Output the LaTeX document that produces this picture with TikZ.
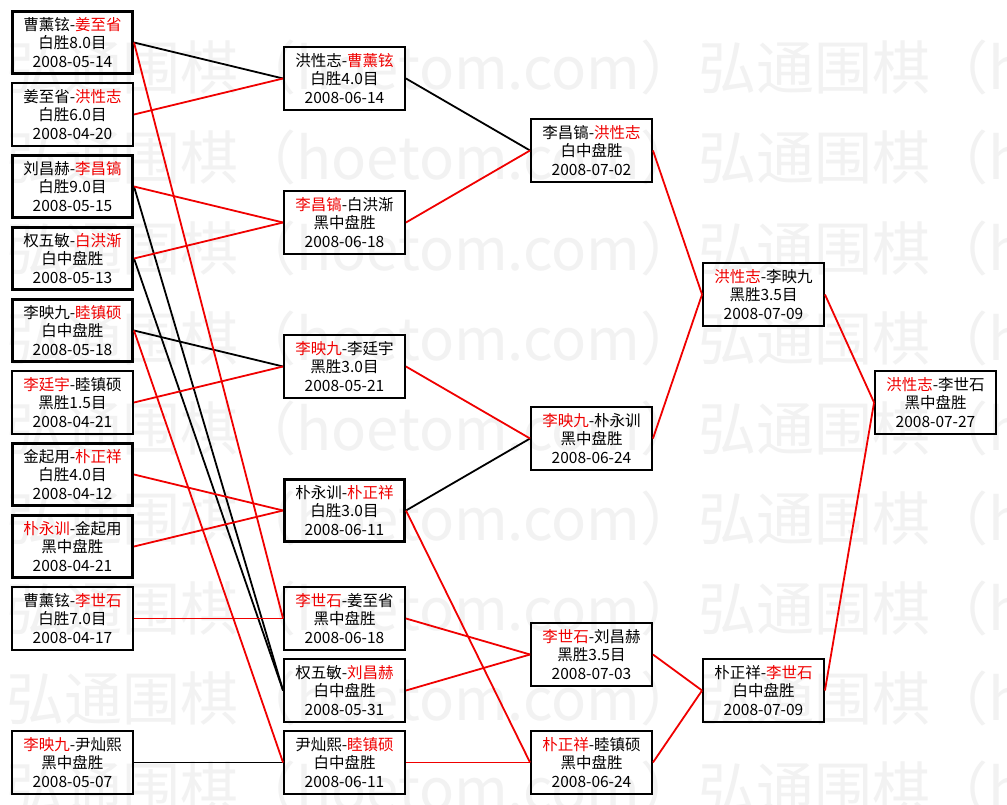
\documentclass[tikz,border=0pt]{standalone}
\usepackage{fontspec}
\setmainfont{Noto Sans CJK SC}
\definecolor{wred}{RGB}{240,0,0}
\definecolor{wmgray}{RGB}{242,242,242}
\newcommand{\redtxt}[1]{\textcolor{wred}{#1}}
\begin{document}
\begin{tikzpicture}[x=1pt,y=-1pt,
  box/.style={draw=black, line width=1.9pt, minimum width=121pt, minimum height=63pt,
    inner sep=0pt, align=center, font=\fontsize{15.5pt}{18.5pt}\selectfont},
  boldbox/.style={box, line width=3pt, minimum width=120pt, minimum height=62pt},
  blk/.style={draw=black, line width=1.8pt},
  rln/.style={draw=wred, line width=1.8pt},
  wm/.style={anchor=base west, inner sep=0pt, text=wmgray,
    font=\fontsize{58pt}{58pt}\selectfont}]
\useasboundingbox (0,0) rectangle (1007,805);
\clip (0,0) rectangle (1007,805);
\fill[white] (0,0) rectangle (1007,805);
% watermark
\foreach \k in {0,...,8}{
  \node[wm, name=wm\k] at (6,{90+90*\k}) {弘通围棋（hoetom.com）弘通围棋（hoetom.com）};
}
% left column
\node[boldbox] (L1) at (72.5,42.5) {曹薰铉-\redtxt{姜至省}\\白胜8.0目\\2008-05-14};
\node[box] (L2) at (72.5,114.5) {姜至省-\redtxt{洪性志}\\白胜6.0目\\2008-04-20};
\node[boldbox] (L3) at (72.5,186.5) {刘昌赫-\redtxt{李昌镐}\\白胜9.0目\\2008-05-15};
\node[boldbox] (L4) at (72.5,258.5) {权五敏-\redtxt{白洪渐}\\白中盘胜\\2008-05-13};
\node[boldbox] (L5) at (72.5,330.5) {李映九-\redtxt{睦镇硕}\\白中盘胜\\2008-05-18};
\node[box] (L6) at (72.5,402.5) {\redtxt{李廷宇}-睦镇硕\\黑胜1.5目\\2008-04-21};
\node[boldbox] (L7) at (72.5,474.5) {金起用-\redtxt{朴正祥}\\白胜4.0目\\2008-04-12};
\node[boldbox] (L8) at (72.5,546.5) {\redtxt{朴永训}-金起用\\黑中盘胜\\2008-04-21};
\node[box] (L9) at (72.5,618.5) {曹薰铉-\redtxt{李世石}\\白胜7.0目\\2008-04-17};
\node[box] (L10) at (72.5,762.5) {\redtxt{李映九}-尹灿熙\\黑中盘胜\\2008-05-07};
% second column
\node[box] (M1) at (344.5,78.5) {洪性志-\redtxt{曹薰铉}\\白胜4.0目\\2008-06-14};
\node[box] (M2) at (344.5,222.5) {\redtxt{李昌镐}-白洪渐\\黑中盘胜\\2008-06-18};
\node[box] (M3) at (344.5,366.5) {\redtxt{李映九}-李廷宇\\黑胜3.0目\\2008-05-21};
\node[boldbox] (M4) at (344.5,510.5) {朴永训-\redtxt{朴正祥}\\白胜3.0目\\2008-06-11};
\node[box] (M5) at (344.5,618.5) {\redtxt{李世石}-姜至省\\黑中盘胜\\2008-06-18};
\node[box] (M6) at (344.5,690.5) {权五敏-\redtxt{刘昌赫}\\白中盘胜\\2008-05-31};
\node[box] (M7) at (344.5,762.5) {尹灿熙-\redtxt{睦镇硕}\\白中盘胜\\2008-06-11};
% third column
\node[box] (C1) at (591.5,150.5) {李昌镐-\redtxt{洪性志}\\白中盘胜\\2008-07-02};
\node[box] (C2) at (591.5,438.5) {\redtxt{李映九}-朴永训\\黑中盘胜\\2008-06-24};
\node[box] (C3) at (591.5,654.5) {\redtxt{李世石}-刘昌赫\\黑胜3.5目\\2008-07-03};
\node[box] (C4) at (591.5,762.5) {\redtxt{朴正祥}-睦镇硕\\黑中盘胜\\2008-06-24};
% fourth column
\node[box] (D1) at (763.5,294.5) {\redtxt{洪性志}-李映九\\黑胜3.5目\\2008-07-09};
\node[box] (D2) at (763.5,690.5) {朴正祥-\redtxt{李世石}\\白中盘胜\\2008-07-09};
% final
\node[box] (E1) at (935.5,402.5) {\redtxt{洪性志}-李世石\\黑中盘胜\\2008-07-27};
% black connectors
\draw[blk] (L1.east) -- (M1.west);
\draw[blk] (L3.east) -- (M6.west);
\draw[blk] (L4.east) -- (M6.west);
\draw[blk] (L5.east) -- (M3.west);
\draw[blk] (L10.east) -- (M7.west);
\draw[blk] (M1.east) -- (C1.west);
\draw[blk] (M4.east) -- (C2.west);
% red connectors
\draw[rln] (L1.east) -- (M5.west);
\draw[rln] (L2.east) -- (M1.west);
\draw[rln] (L3.east) -- (M2.west);
\draw[rln] (L4.east) -- (M2.west);
\draw[rln] (L5.east) -- (M7.west);
\draw[rln] (L6.east) -- (M3.west);
\draw[rln] (L7.east) -- (M4.west);
\draw[rln] (L8.east) -- (M4.west);
\draw[rln] (L9.east) -- (M5.west);
\draw[rln] (M2.east) -- (C1.west);
\draw[rln] (M3.east) -- (C2.west);
\draw[rln] (M4.east) -- (C4.west);
\draw[rln] (M5.east) -- (C3.west);
\draw[rln] (M6.east) -- (C3.west);
\draw[rln] (M7.east) -- (C4.west);
\draw[rln] (C1.east) -- (D1.west);
\draw[rln] (C2.east) -- (D1.west);
\draw[rln] (C3.east) -- (D2.west);
\draw[rln] (C4.east) -- (D2.west);
\draw[rln] (D1.east) -- (E1.west);
\draw[rln] (D2.east) -- (E1.west);
\end{tikzpicture}
\end{document}
